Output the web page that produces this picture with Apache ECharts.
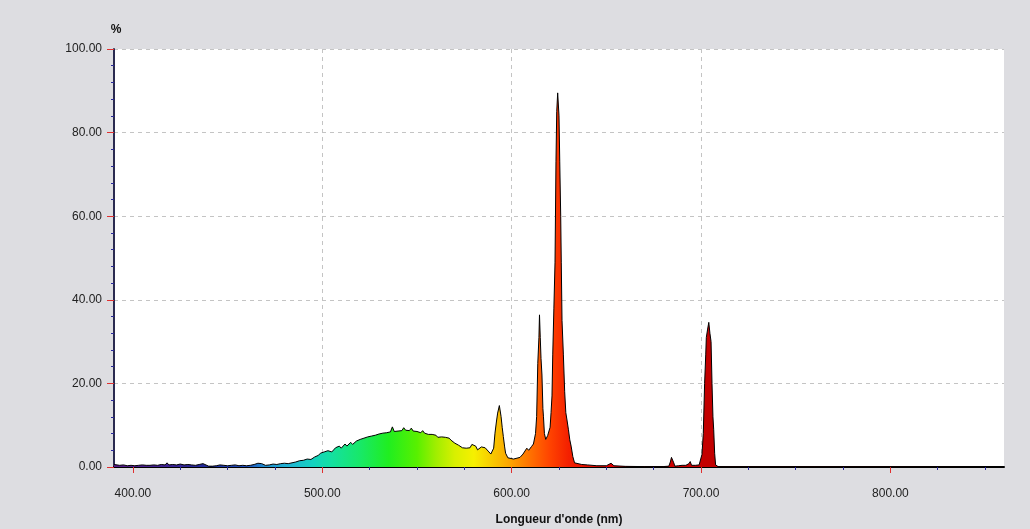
<!DOCTYPE html>
<html>
<head>
<meta charset="utf-8">
<script src="https://cdn.jsdelivr.net/npm/echarts@6.0.0/dist/echarts.min.js"></script>
<style>
html,body{margin:0;padding:0;background:#dddde1;}
#chart{width:1030px;height:529px;}
</style>
</head>
<body>
<div id="chart"></div>
<script>
// Wavelength (nm) and relative intensity (%)
const wavelengths = [
  390,391,393,395,397,399,401,403,405,406,407,409,411,413,415,417,418,419,421,423,425,427,429,430,431,433,435,437,438,440,
  442,444,446,448,450,452,454,456,458,460,462,464,466,467,468,470,472,474,476,478,480,482,484,486,488,490,492,494,
  496,497,498,499,500,501,502,503,504,505,506,507,508,509,510,511,512,513,514,515,516,517,518,519,520,
  521,522,523,524,525,526,527,528,529,530,531,532,533,534,535,536,537,538,539,540,
  541,542,543,544,545,546,547,548,549,550,551,552,553,554,555,556,557,558,559,560,
  561,562,563,564,565,566,567,568,569,570,571,572,573,574,575,576,577,578,579,580,
  581,582,583,584,585,586,587,588,589,589.5,590.5,591.2,592,592.6,593.5,594.4,595,595.6,596.3,596.8,598,599,601,602,604.4,606,607,608,609,610.5,611.5,
  612,612.6,613.2,613.8,614.4,614.7,615.1,615.5,616,616.5,616.8,617.3,618,619,620.3,620.8,621.3,621.7,622.3,622.9,623.4,623.8,624.3,625,625.4,625.9,626.2,626.6,627.3,628,628.6,629.3,630,630.7,631.4,632.3,633.2,
  634,637,640,645,650,652.5,654,660,670,680,683,683.8,684.4,685,685.6,686.2,688,690,692,693.6,694.3,695,697,699,700,
  700.5,701.2,701.9,702.5,702.8,703.5,704.1,704.7,705.3,705.8,706.3,706.7,707.2,707.7,709,720,760,800,860
];
const intensity = [
  0.6,0.5,0.4,0.5,0.3,0.4,0.3,0.4,0.5,0.9,0.4,0.4,0.5,0.4,0.6,0.5,1.0,0.5,0.6,0.5,0.7,0.5,0.6,0.9,0.5,0.4,0.6,0.8,0.4,0.2,
  0.2,0.3,0.5,0.4,0.3,0.4,0.5,0.3,0.4,0.3,0.4,0.6,0.9,1.1,0.8,0.4,0.5,0.7,0.6,0.8,0.9,0.8,1.0,1.2,1.5,1.6,1.9,1.8,
  2.4,2.2,2.8,3.3,3.0,3.6,3.2,3.9,4.2,3.6,4.1,4.6,4.2,5.0,4.5,4.9,5.5,5.0,5.3,5.9,5.4,5.6,6.2,6.0,6.6,
  6.3,6.9,6.6,7.2,7.0,7.4,7.1,7.6,7.4,7.9,7.6,8.1,7.9,8.2,8.0,8.4,9.6,8.5,8.9,8.6,
  9.0,8.7,9.4,8.8,9.1,8.7,9.3,8.6,8.9,8.5,8.8,8.2,8.7,8.1,8.3,7.8,7.6,7.8,7.4,7.6,
  7.1,7.4,7.2,7.0,7.1,6.7,6.9,6.4,6.2,5.7,5.8,5.2,5.0,4.6,4.2,4.5,4.3,4.6,5.4,5.8,
  5.0,4.1,4.3,4.8,5.0,4.6,4.3,3.6,3.1,2.9,4.5,8.1,11.0,12.9,14.7,12.1,9.5,7.3,4.8,3.3,2.2,2.3,1.9,2.1,2.3,3.1,2.7,4.5,4.0,4.9,5.5,
  5.7,8,12.1,24.8,31,36.4,31,26,22,14,12,8,6.6,7.5,9.5,13,17,27,38,49,73,85,89.5,84,73,60,49,35,27,18,13,11,8.9,6.5,5,2.5,1,
  0.8,0.6,0.5,0.3,0.3,0.9,0.3,0.15,0.1,0.1,0.2,1.2,2.3,2.2,1.0,0.2,0.3,0.4,0.4,0.8,1.3,0.4,0.4,0.5,0.6,
  3,8,20,27,31,33,34.6,32,30,20,12,8.9,3.3,0.5,0.1,0.05,0.05,0.05,0.05
];

const xMin = 390, xMax = 860;
const xMajorTicks = [400, 500, 600, 700, 800];
const xMinorTicks = [425, 450, 475, 525, 550, 575, 625, 650, 675, 725, 750, 775, 825, 850];

// Spectrum colour stops (wavelength -> colour)
const colorNm = [390, 420, 440, 460, 470, 482, 495, 505, 520, 535, 550, 560, 570, 580, 590, 600, 610, 620, 630, 650, 700, 860];
const colorHex = ['#5a1a8a','#3a2294','#1e2a9a','#2050c0','#2090d0','#20b4d4','#14d2c0','#14e0a0','#18e868','#20ee20','#58f000','#a0ee00','#d8f000','#f6f000','#f8c800','#fca000','#ff7000','#ff4400','#f42000','#e00000','#c40000','#900000'];

const data = wavelengths.map((w, i) => [w, intensity[i]]);
const stops = colorNm.map((w, i) => ({ offset: (w - xMin) / (xMax - xMin), color: colorHex[i] }));

const chart = echarts.init(document.getElementById('chart'), null, { renderer: 'canvas' });
const font = '"Liberation Sans", Arial, sans-serif';

chart.setOption({
  backgroundColor: '#dddde1',
  animation: false,
  grid: {
    left: 114, right: 26, top: 49, bottom: 62,
    containLabel: false,
    outerBoundsMode: 'none',
    show: true, backgroundColor: '#ffffff', borderWidth: 0
  },
  xAxis: [{
    type: 'value',
    min: xMin, max: xMax,
    position: 'bottom',
    name: "Longueur d'onde (nm)",
    nameLocation: 'middle',
    nameGap: 47,
    nameTextStyle: { fontFamily: font, fontSize: 12, fontWeight: 'bold', color: '#111' },
    axisLine: { show: true, onZero: false, lineStyle: { color: '#000', width: 2 } },
    axisTick: { show: true, customValues: xMajorTicks, length: 6, lineStyle: { color: '#e03030', width: 1 } },
    axisLabel: {
      customValues: xMajorTicks, margin: 21,
      fontFamily: font, fontSize: 12, color: '#222',
      formatter: v => v.toFixed(2)
    },
    splitLine: { show: true, showMinLine: false, showMaxLine: false, lineStyle: { color: '#c4c4c4', type: [4, 4], width: 1 } }
  }, {
    type: 'value',
    min: xMin, max: xMax,
    position: 'bottom',
    axisLine: { show: false },
    axisTick: { show: true, customValues: xMinorTicks, length: 3, lineStyle: { color: '#2a2a9a', width: 1 } },
    axisLabel: { show: false },
    splitLine: { show: false }
  }],
  yAxis: {
    type: 'value',
    min: 0, max: 100, interval: 20,
    name: '%',
    nameLocation: 'end',
    nameGap: 13,
    nameTextStyle: { fontFamily: font, fontSize: 12, fontWeight: 'bold', color: '#111', padding: [0, 0, 0, 4] },
    axisLine: { show: true, lineStyle: { color: '#2a2a50', width: 2 } },
    axisTick: { show: true, length: 7, lineStyle: { color: '#e03030', width: 1 } },
    minorTick: { show: true, splitNumber: 5, length: 3, lineStyle: { color: '#2a2a9a', width: 1 } },
    axisLabel: { margin: 12, fontFamily: font, fontSize: 12, color: '#222', formatter: v => v.toFixed(2) },
    splitLine: { show: true, showMinLine: false, lineStyle: { color: '#c4c4c4', type: [4, 4], width: 1 } }
  },
  series: [{
    type: 'line',
    xAxisIndex: 0,
    data: data,
    symbol: 'none',
    smooth: false,
    lineStyle: { color: '#000', width: 1 },
    areaStyle: {
      opacity: 1,
      color: new echarts.graphic.LinearGradient(0, 0, 1, 0, stops)
    },
    z: 3
  }]
});
</script>
</body>
</html>
